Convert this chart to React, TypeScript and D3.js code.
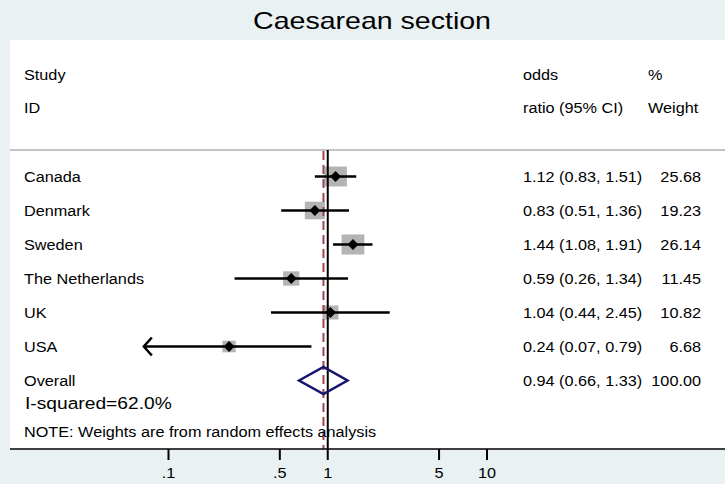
import React from "react";
import * as d3 from "d3";

const studies = ["Canada", "Denmark", "Sweden", "The Netherlands", "UK", "USA"];
const oddsRatio = [1.12, 0.83, 1.44, 0.59, 1.04, 0.24];
const lower = [0.83, 0.51, 1.08, 0.26, 0.44, 0.07];
const upper = [1.51, 1.36, 1.91, 1.34, 2.45, 0.79];
const weights = [25.68, 19.23, 26.14, 11.45, 10.82, 6.68];

const overallLabel = "Overall";
const overallOR = 0.94;
const overallLower = 0.66;
const overallUpper = 1.33;
const overallWeight = 100;
const iSquared = "I-squared=62.0%";

const tickValues = [0.1, 0.5, 1, 5, 10];
const tickLabels = [".1", ".5", "1", "5", "10"];

const W = 725;
const H = 484;
const FONT = "'Liberation Sans', Arial, Helvetica, sans-serif";
const STRETCH = 1.16;

const T: React.FC<{
  x: number;
  y: number;
  size?: number;
  anchor?: "start" | "middle" | "end";
  children: React.ReactNode;
}> = ({ x, y, size = 14, anchor = "start", children }) => (
  <text
    transform={`translate(${x},${y}) scale(${STRETCH},1)`}
    fontFamily={FONT}
    fontSize={size}
    textAnchor={anchor}
    fill="#000"
  >
    {children}
  </text>
);

const fmt = d3.format(".2f");

export default function App() {
  const x = d3.scaleLog().domain([0.1, 10]).range([168.5, 487]);
  const y = d3
    .scalePoint<string>()
    .domain([...studies, overallLabel])
    .range([176.5, 380.5]);
  const box = d3.scaleSqrt().domain([0, d3.max(weights) as number]).range([3.5, 22.8]);

  const plotTop = 150;
  const axisY = 449;

  return (
    <div style={{ position: "fixed", left: 0, top: 0 }}>
      <svg width={W} height={H} style={{ display: "block" }}>
        <rect x={0} y={0} width={W} height={H} fill="#e9f1f3" />
        <rect x={10} y={40} width={W - 10} height={axisY - 40} fill="#fff" />

        <text
          transform={`translate(372,29) scale(1.19,1)`}
          fontFamily={FONT}
          fontSize={24}
          textAnchor="middle"
        >
          Caesarean section
        </text>

        {/* header */}
        <T x={24} y={80}>Study</T>
        <T x={24} y={113}>ID</T>
        <T x={523} y={80}>odds</T>
        <T x={523} y={113}>ratio (95% CI)</T>
        <T x={648} y={80}>%</T>
        <T x={648} y={113}>Weight</T>
        <line x1={10} x2={W} y1={plotTop} y2={plotTop} stroke="#c4c4c4" strokeWidth={2} />

        {/* boxes */}
        {studies.map((s, i) => {
          const w = box(weights[i]);
          const h = w * 0.88;
          return (
            <rect
              key={`b${s}`}
              x={x(oddsRatio[i]) - w / 2}
              y={(y(s) as number) - h / 2}
              width={w}
              height={h}
              fill="#b4b4b4"
            />
          );
        })}

        {/* null line */}
        <line x1={x(1)} x2={x(1)} y1={plotTop} y2={axisY} stroke="#000" strokeWidth={2} />
        {/* overall dashed line */}
        <line
          x1={x(overallOR)}
          x2={x(overallOR)}
          y1={plotTop + 1}
          y2={axisY}
          stroke="#a4434f"
          strokeWidth={2}
          strokeDasharray="9,5"
        />

        {/* CIs */}
        {studies.map((s, i) => {
          const yy = y(s) as number;
          const x0 = x(lower[i]);
          const x1 = x(upper[i]);
          const arrow = lower[i] < tickValues[0];
          return (
            <g key={`c${s}`} stroke="#000" strokeWidth={2.5} fill="none">
              <line x1={x0} x2={x1} y1={yy} y2={yy} />
              {arrow && <path d={`M${x0 + 8},${yy - 9}L${x0},${yy}L${x0 + 8},${yy + 9}`} />}
            </g>
          );
        })}

        {/* point estimates */}
        {studies.map((s, i) => {
          const cx = x(oddsRatio[i]);
          const cy = y(s) as number;
          const r = 5.5;
          return (
            <path
              key={`p${s}`}
              d={`M${cx},${cy - r}L${cx + r},${cy}L${cx},${cy + r}L${cx - r},${cy}Z`}
              fill="#000"
            />
          );
        })}

        {/* overall diamond */}
        {(() => {
          const cy = y(overallLabel) as number;
          const hh = 13.5;
          return (
            <path
              d={`M${x(overallLower)},${cy}L${x(overallOR)},${cy - hh}L${x(overallUpper)},${cy}L${x(overallOR)},${cy + hh}Z`}
              fill="none"
              stroke="#14146e"
              strokeWidth={2.5}
            />
          );
        })()}

        {/* labels */}
        {studies.map((s, i) => {
          const yy = (y(s) as number) + 5;
          return (
            <g key={`t${s}`}>
              <T x={24} y={yy}>{s}</T>
              <T x={523} y={yy}>
                {`${fmt(oddsRatio[i])} (${fmt(lower[i])}, ${fmt(upper[i])})`}
              </T>
              <T x={701} y={yy} anchor="end">{fmt(weights[i])}</T>
            </g>
          );
        })}
        <T x={24} y={(y(overallLabel) as number) + 5}>{overallLabel}</T>
        <T x={523} y={(y(overallLabel) as number) + 5}>
          {`${fmt(overallOR)} (${fmt(overallLower)}, ${fmt(overallUpper)})`}
        </T>
        <T x={701} y={(y(overallLabel) as number) + 5} anchor="end">{fmt(overallWeight)}</T>
        <text
          transform={`translate(25,409) scale(1.13,1)`}
          fontFamily={FONT}
          fontSize={17}
        >
          {iSquared}
        </text>
        <T x={24} y={437}>NOTE: Weights are from random effects analysis</T>

        {/* axis */}
        <line x1={10} x2={W} y1={axisY} y2={axisY} stroke="#000" strokeWidth={1.5} />
        {tickValues.map((v, i) => (
          <g key={`k${v}`}>
            <line x1={x(v)} x2={x(v)} y1={axisY} y2={axisY + 11} stroke="#000" strokeWidth={2} />
            <T x={x(v)} y={478} anchor="middle">{tickLabels[i]}</T>
          </g>
        ))}
      </svg>
    </div>
  );
}
